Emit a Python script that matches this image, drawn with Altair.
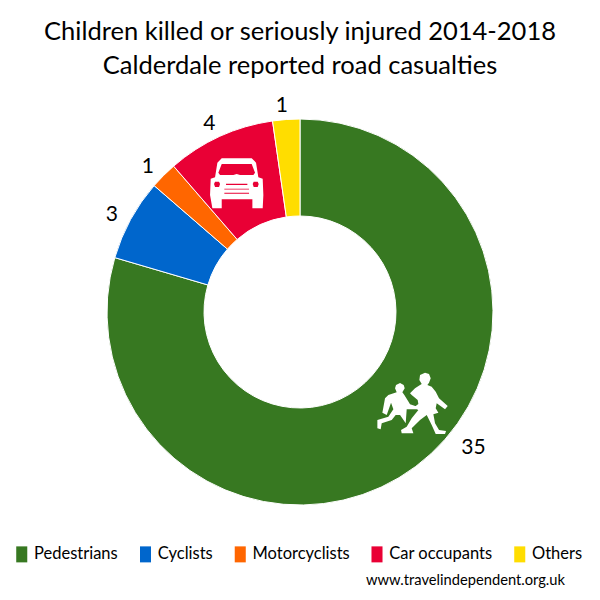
import altair as alt
import pandas as pd

categories = ["Pedestrians", "Cyclists", "Motorcyclists", "Car occupants", "Others"]
values = [35, 3, 1, 4, 1]
colours = ["#377821", "#0066CC", "#FF6600", "#E90035", "#FFDD00"]
title_lines = ["Children killed or seriously injured 2014-2018", "Calderdale reported road casualties"]
credit = ["www.travelindependent.org.uk"]
FONT = "Lato"
CX, CY = 292, 304


def norm(points, cx, cy, half):
    return "M" + "L".join(f"{(x-cx)/half:.3f},{(y-cy)/half:.3f}" for x, y in points) + "Z"


car_outline = [(95,55),(185,55),(198,68),(205,112),(218,116),(220,165),(218,205),(187,205),(187,178),(140,178),(95,178),(95,205),(67,205),(60,165),(62,116),(75,112),(82,68)]
car_window = [(95,72),(85,98),(90,105),(130,105),(140,102),(150,105),(190,105),(195,98),(185,72)]
car_lamp_l = [(72,132),(75,141),(87,141),(90,132),(87,125),(75,125)]
car_lamp_r = [(188,132),(191,141),(203,141),(206,132),(203,125),(191,125)]
car_bars = [[(108,131),(108,135),(172,135),(172,131)],
            [(103,146),(103,149),(177,149),(177,146)],
            [(103,158),(103,161),(177,161),(177,158)]]
car_path = norm(car_outline, 140, 130, 80) + "".join(
    norm(h, 140, 130, 80) for h in [car_window, car_lamp_l, car_lamp_r] + car_bars)

big_child = [(180,38),(192,42),(197,55),(192,68),(187,75),(200,80),(212,95),(222,115),(248,138),(240,148),(215,130),(212,145),(220,158),(205,163),(210,190),(222,210),(243,213),(240,222),(212,222),(200,195),(185,165),(165,180),(140,205),(145,220),(110,220),(108,210),(125,200),(140,175),(160,150),(145,143),(160,132),(158,120),(140,105),(135,100),(150,85),(165,75),(170,72),(163,60),(165,45)]
small_child = [(105,69),(116,75),(119,85),(112,97),(118,105),(130,125),(135,133),(155,140),(155,147),(125,148),(122,190),(105,165),(92,165),(80,180),(50,190),(47,208),(37,205),(37,180),(70,170),(85,148),(78,128),(65,165),(52,158),(60,115),(70,105),(95,97),(90,85),(93,75)]
child_path = norm(big_child, 140, 130, 105) + norm(small_child, 140, 130, 105)

data = pd.DataFrame({"k": categories, "v": values, "i": range(len(values))})
base = alt.Chart(data).transform_calculate(
    a="datum.k === 'Pedestrians' ? '' : '' + datum.v",
    b="datum.k === 'Pedestrians' ? '' + datum.v : ''",
)
theta = alt.Theta("v:Q", stack=True, scale=alt.Scale(range=[0, 6.283185307]))
pos = dict(x=alt.value(CX), y=alt.value(CY))
colour = alt.Color("k:N", scale=alt.Scale(domain=categories, range=colours), sort=categories,
                   legend=alt.Legend(
                       title=None, orient="none", direction="horizontal", columns=5,
                       legendX=5.5, legendY=538, labelFont=FONT, labelFontSize=16.5, labelColor="#000000",
                       symbolType="M-0.69,-1H0.69V1H-0.69Z", symbolSize=256, symbolStrokeWidth=0,
                       symbolOpacity=1, labelOffset=4, columnPadding=18.75, gridAlign="each"))

arcs = base.mark_arc(innerRadius=96, outerRadius=193, stroke="white", strokeWidth=1).encode(
    theta=theta, color=colour, order=alt.Order("i:Q"), **pos)
labels = base.mark_text(radius=211, dx=-3, dy=4, font=FONT, fontSize=21, color="black").encode(
    theta=theta, text="a:N", order=alt.Order("i:Q"), **pos)
label_big = base.mark_text(radius=211, dx=47, dy=-33, font=FONT, fontSize=21, color="black").encode(
    theta=theta, text="b:N", order=alt.Order("i:Q"), **pos)

icons = alt.Chart(pd.DataFrame({"p": [0]}))
car = icons.mark_point(shape=car_path, size=2844, filled=True, fill="white", opacity=1, strokeWidth=0).encode(
    x=alt.value(CX - 63.3), y=alt.value(CY - 128.7))
children = icons.mark_point(shape=child_path, size=4900, filled=True, fill="white", opacity=1, strokeWidth=0).encode(
    x=alt.value(CX + 111.7), y=alt.value(CY + 91.3))
credit_text = alt.Chart(pd.DataFrame({"t": credit})).mark_text(
    font=FONT, fontSize=14.7, align="right", color="black").encode(
    x=alt.value(557), y=alt.value(573), text="t:N")

chart = alt.layer(arcs, labels, label_big, car, children, credit_text).properties(
    width=584, height=584,
    padding=0,
    autosize=alt.AutoSizeParams(type="none"),
    title=alt.TitleParams(text=title_lines, font=FONT, fontSize=25.5, fontWeight="normal",
                          anchor="middle", color="black", lineHeight=34, offset=-71),
).configure_view(stroke=None)

chart.save("out.html", embed_options={"renderer": "svg", "actions": False})
